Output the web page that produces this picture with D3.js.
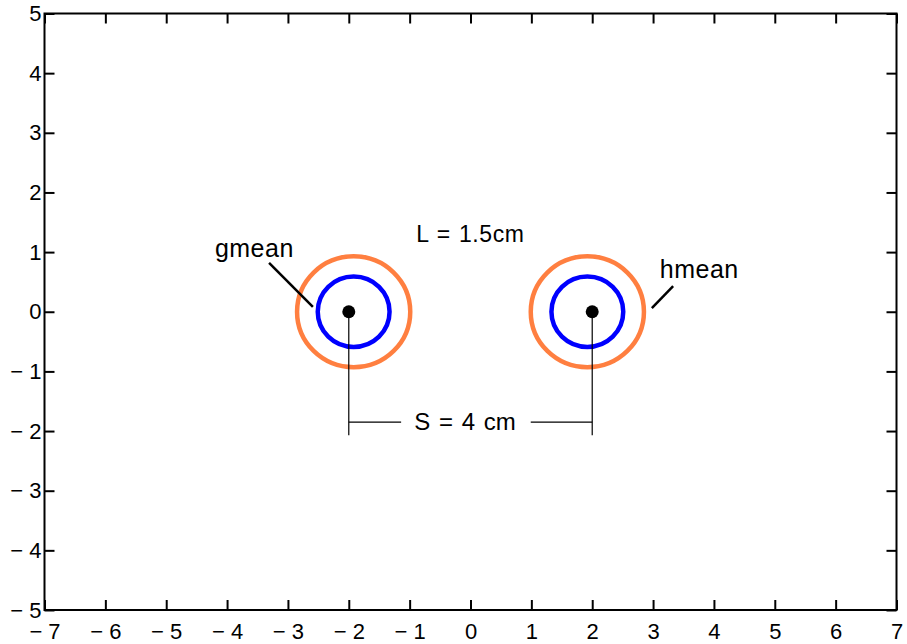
<!DOCTYPE html>
<html>
<head>
<meta charset="utf-8">
<script src="https://cdn.jsdelivr.net/npm/d3@7"></script>
<style>
  html, body { margin: 0; padding: 0; background: #fff; }
  svg { display: block; font-family: "Liberation Sans", Arial, sans-serif; }
</style>
</head>
<body>
<svg id="chart" width="907" height="644"></svg>
<script>
// ---- data ----
const xTicks = [-7, -6, -5, -4, -3, -2, -1, 0, 1, 2, 3, 4, 5, 6, 7];
const yTicks = [-5, -4, -3, -2, -1, 0, 1, 2, 3, 4, 5];
const conductorX = [-2, 2];          // black dots (conductor centres)
const contourCentreX = [-1.92, 1.92]; // centres of the contour rings
const orangeRadius = [0.93, 0.93];
const blueRadius = [0.59, 0.59];
const labels = ["gmean", "hmean"];

(function () {
// ---- layout ----
const mLeft = 44.5, mRight = 896.5, mTop = 13.5, mBottom = 610;
const x = d3.scaleLinear().domain([-7, 7]).range([mLeft, mRight]);
const y = d3.scaleLinear().domain([-5, 5]).range([mBottom, mTop]);

const svg = d3.select("#chart");
const fmt = v => v < 0 ? "\u2212 " + Math.abs(v) : String(v);

// axes (inward ticks, mirrored)
const tl = 10;
const gx = svg.append("g").attr("transform", `translate(0,${mBottom})`)
  .call(d3.axisBottom(x).tickValues(xTicks).tickSizeInner(-tl).tickSizeOuter(0).tickPadding(13).tickFormat(fmt));
const gxt = svg.append("g").attr("transform", `translate(0,${mTop})`)
  .call(d3.axisTop(x).tickValues(xTicks).tickSizeInner(-tl).tickSizeOuter(0).tickFormat(""));
const gy = svg.append("g").attr("transform", `translate(${mLeft},0)`)
  .call(d3.axisLeft(y).tickValues(yTicks).tickSizeInner(-tl).tickSizeOuter(0).tickPadding(3).tickFormat(fmt));
const gyr = svg.append("g").attr("transform", `translate(${mRight},0)`)
  .call(d3.axisRight(y).tickValues(yTicks).tickSizeInner(-tl).tickSizeOuter(0).tickFormat(""));

[gx, gxt, gy, gyr].forEach(g => {
  g.select(".domain").remove();
  g.selectAll(".tick line").attr("stroke", "#000").attr("stroke-width", 2);
  g.selectAll(".tick text").attr("fill", "#000").style("font-size", "22px");
});
gx.selectAll(".tick text").attr("dy", "0.71em");

// box
svg.append("rect")
  .attr("x", mLeft).attr("y", mTop)
  .attr("width", mRight - mLeft).attr("height", mBottom - mTop)
  .attr("fill", "none").attr("stroke", "#000").attr("stroke-width", 2);

const kx = x(1) - x(0), ky = y(0) - y(1);

// orange rings
svg.selectAll(".orange").data(contourCentreX).join("ellipse")
  .attr("class", "orange")
  .attr("cx", d => x(d)).attr("cy", y(0))
  .attr("rx", (d, i) => orangeRadius[i] * kx).attr("ry", (d, i) => orangeRadius[i] * ky)
  .attr("fill", "none").attr("stroke", "#FF7F40").attr("stroke-width", 4.5);

// blue rings
svg.selectAll(".blue").data(contourCentreX).join("ellipse")
  .attr("class", "blue")
  .attr("cx", d => x(d)).attr("cy", y(0))
  .attr("rx", (d, i) => blueRadius[i] * kx).attr("ry", (d, i) => blueRadius[i] * ky)
  .attr("fill", "none").attr("stroke", "#0000FF").attr("stroke-width", 4.5);

// vertical dimension lines
svg.selectAll(".vline").data(conductorX).join("line")
  .attr("class", "vline")
  .attr("x1", d => x(d)).attr("x2", d => x(d))
  .attr("y1", y(0)).attr("y2", y(-2.07))
  .attr("stroke", "#000").attr("stroke-width", 1.2);

// dots
svg.selectAll(".dot").data(conductorX).join("circle")
  .attr("class", "dot")
  .attr("cx", d => x(d)).attr("cy", y(0)).attr("r", 6.5).attr("fill", "#000");

// horizontal dimension line (split around text)
const yDim = y(-1.85);
svg.append("line").attr("x1", x(-2)).attr("x2", x(-1.14)).attr("y1", yDim).attr("y2", yDim)
  .attr("stroke", "#000").attr("stroke-width", 1.2);
svg.append("line").attr("x1", x(0.99)).attr("x2", x(2)).attr("y1", yDim).attr("y2", yDim)
  .attr("stroke", "#000").attr("stroke-width", 1.2);
svg.append("text").attr("x", x(-0.09)).attr("y", y(-1.98))
  .attr("text-anchor", "middle").style("font-size", "24px").style("word-spacing", "2px")
  .text("S = 4 cm");

// L label
svg.append("text").attr("x", x(-0.89)).attr("y", y(1.17))
  .style("font-size", "23px").style("letter-spacing", "0.6px").style("word-spacing", "1px")
  .text("L = 1.5cm");

// gmean / hmean labels with leaders
svg.append("text").attr("x", x(-4.2)).attr("y", y(0.92))
  .style("font-size", "25px").style("letter-spacing", "0.5px").text(labels[0]);
svg.append("line").attr("x1", x(-3.31)).attr("y1", y(0.82)).attr("x2", x(-2.59)).attr("y2", y(0.08))
  .attr("stroke", "#000").attr("stroke-width", 2.5);
svg.append("text").attr("x", x(3.11)).attr("y", y(0.57))
  .style("font-size", "25px").style("letter-spacing", "0.5px").text(labels[1]);
svg.append("line").attr("x1", x(3.33)).attr("y1", y(0.43)).attr("x2", x(2.98)).attr("y2", y(0.06))
  .attr("stroke", "#000").attr("stroke-width", 2.5);
})();
</script>
</body>
</html>
